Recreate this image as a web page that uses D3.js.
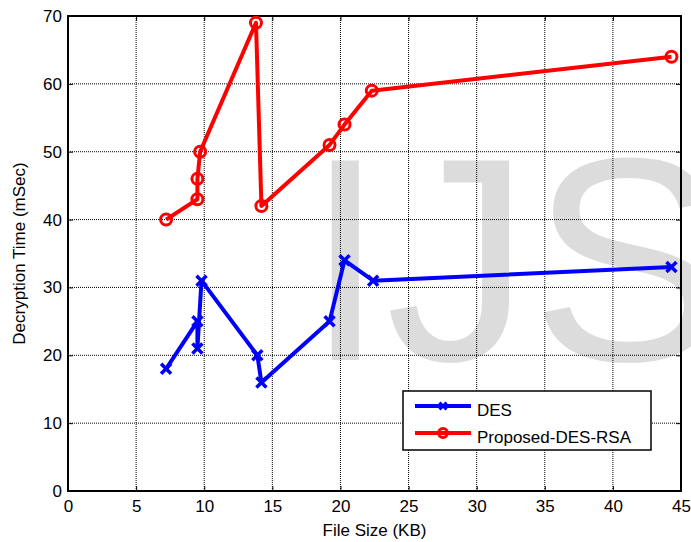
<!DOCTYPE html>
<html>
<head>
<meta charset="utf-8">
<script src="https://cdn.jsdelivr.net/npm/d3@7"></script>
<style>
body { margin: 0; background: #fff; }
text { font-family: "Liberation Sans", Arial, sans-serif; }
</style>
</head>
<body>
<div id="chart"></div>
<script>
// data
var desSize  = [7.2, 9.5, 9.5, 9.8, 13.9, 14.2, 19.2, 20.3, 22.4, 44.3];
var desTime  = [18, 25, 21, 31, 20, 16, 25, 34, 31, 33];
var rsaSize  = [7.2, 9.5, 9.5, 9.7, 13.8, 14.2, 19.2, 20.3, 22.3, 44.3];
var rsaTime  = [40, 43, 46, 50, 69, 42, 51, 54, 59, 64];
var xTicks = [0, 5, 10, 15, 20, 25, 30, 35, 40, 45];
var yTicks = [0, 10, 20, 30, 40, 50, 60, 70];
var seriesNames = ['DES', 'Proposed-DES-RSA'];

var W = 691, H = 542;
var m = {left: 68, right: 10, top: 16, bottom: 51};
var fs = 17;

var svg = d3.select('#chart').append('svg')
	.attr('width', W)
	.attr('height', H);

var x = d3.scaleLinear().domain([0, 45]).range([m.left, W - m.right]);
var y = d3.scaleLinear().domain([0, 70]).range([H - m.bottom, m.top]);

// watermark behind everything
svg.append('text')
	.attr('x', 305)
	.attr('y', 360)
	.attr('font-size', 290)
	.attr('fill', '#dcdcdc')
	.text('IJS');

// grid
var g = svg.append('g');
xTicks.forEach(function(t){
	g.append('line')
		.attr('x1', x(t)).attr('x2', x(t))
		.attr('y1', y(0)).attr('y2', y(70))
		.attr('stroke', '#000').attr('stroke-width', 1)
		.attr('stroke-dasharray', '1,1');
});
yTicks.forEach(function(t){
	g.append('line')
		.attr('x1', x(0)).attr('x2', x(45))
		.attr('y1', y(t)).attr('y2', y(t))
		.attr('stroke', '#000').attr('stroke-width', 1)
		.attr('stroke-dasharray', '1,1');
});

// axes, ticks pointing inward
svg.append('g')
	.attr('transform', 'translate(0,' + y(0) + ')')
	.call(d3.axisBottom(x).tickValues(xTicks).tickSizeInner(-5).tickSizeOuter(0).tickPadding(9))
	.call(function(a){ a.select('.domain').remove(); });
svg.append('g')
	.attr('transform', 'translate(' + x(0) + ',0)')
	.call(d3.axisLeft(y).tickValues(yTicks).tickSizeInner(-5).tickSizeOuter(0).tickPadding(6))
	.call(function(a){ a.select('.domain').remove(); });
svg.append('g')
	.attr('transform', 'translate(0,' + y(70) + ')')
	.call(d3.axisTop(x).tickValues(xTicks).tickSizeInner(-5).tickSizeOuter(0).tickFormat(''))
	.call(function(a){ a.select('.domain').remove(); });
svg.append('g')
	.attr('transform', 'translate(' + x(45) + ',0)')
	.call(d3.axisRight(y).tickValues(yTicks).tickSizeInner(-5).tickSizeOuter(0).tickFormat(''))
	.call(function(a){ a.select('.domain').remove(); });

svg.selectAll('.tick text').attr('font-size', fs).attr('fill', '#000')
	.style('font-family', '"Liberation Sans", Arial, sans-serif');
svg.selectAll('.tick line').attr('stroke', '#000');

svg.append('rect')
	.attr('x', x(0)).attr('y', y(70))
	.attr('width', x(45) - x(0)).attr('height', y(0) - y(70))
	.attr('fill', 'none').attr('stroke', '#000').attr('stroke-width', 2);

// axis labels
svg.append('text')
	.attr('x', (x(0) + x(45)) / 2).attr('y', 536)
	.attr('text-anchor', 'middle').attr('font-size', fs)
	.text('File Size (KB)');
svg.append('text')
	.attr('transform', 'translate(25,' + ((y(0) + y(70)) / 2) + ') rotate(-90)')
	.attr('text-anchor', 'middle').attr('font-size', fs)
	.text('Decryption Time (mSec)');

var line = d3.line().x(function(d){ return x(d[0]); }).y(function(d){ return y(d[1]); });

function crossPath(s){
	return 'M' + (-s) + ',' + (-s) + 'L' + s + ',' + s + 'M' + (-s) + ',' + s + 'L' + s + ',' + (-s);
}

var des = d3.zip(desSize, desTime);
var rsa = d3.zip(rsaSize, rsaTime);

svg.append('path').datum(des).attr('d', line)
	.attr('fill', 'none').attr('stroke', '#0000ff').attr('stroke-width', 4)
	.attr('stroke-linejoin', 'round');
svg.selectAll('.xm').data(des).enter().append('path')
	.attr('transform', function(d){ return 'translate(' + x(d[0]) + ',' + y(d[1]) + ')'; })
	.attr('d', crossPath(5))
	.attr('stroke', '#0000ff').attr('stroke-width', 3.5).attr('fill', 'none');

svg.append('path').datum(rsa).attr('d', line)
	.attr('fill', 'none').attr('stroke', '#ff0000').attr('stroke-width', 4)
	.attr('stroke-linejoin', 'round');
svg.selectAll('.om').data(rsa).enter().append('circle')
	.attr('cx', function(d){ return x(d[0]); })
	.attr('cy', function(d){ return y(d[1]); })
	.attr('r', 5.5)
	.attr('stroke', '#ff0000').attr('stroke-width', 3).attr('fill', 'none');

// legend
var lg = svg.append('g');
lg.append('rect')
	.attr('x', 403).attr('y', 391).attr('width', 248).attr('height', 59)
	.attr('fill', '#fff').attr('stroke', '#000').attr('stroke-width', 1.5);
[0, 1].forEach(function(i){
	var ly = 406 + i * 27;
	var col = i === 0 ? '#0000ff' : '#ff0000';
	lg.append('line').attr('x1', 415).attr('x2', 471).attr('y1', ly).attr('y2', ly)
		.attr('stroke', col).attr('stroke-width', 4);
	if (i === 0) {
		lg.append('path').attr('transform', 'translate(443,' + ly + ')')
			.attr('d', crossPath(3.5)).attr('stroke', col).attr('stroke-width', 3);
	} else {
		lg.append('circle').attr('cx', 443).attr('cy', ly).attr('r', 4.5)
			.attr('stroke', col).attr('stroke-width', 3).attr('fill', 'none');
	}
	lg.append('text').attr('x', 477).attr('y', ly + 9.5).attr('font-size', fs)
		.text(seriesNames[i]);
});
</script>
</body>
</html>
